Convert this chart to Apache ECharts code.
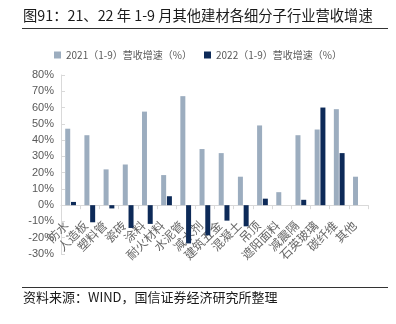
<!DOCTYPE html>
<html><head><meta charset="utf-8">
<script src="https://cdn.jsdelivr.net/npm/echarts@6/dist/echarts.min.js"></script>
<style>html,body{margin:0;padding:0;background:#fff}#c{width:396px;height:324px}</style>
</head><body><div id="c"></div>
<script>
const categories = ['防水','人造板','塑料管','瓷砖','涂料','耐火材料','水泥管','减水剂','建筑五金','混凝土','吊顶','遮阳面料','减震隔','石英玻璃','碳纤维','其他'];
const growth2021 = [47, 43, 22, 25, 57.5, 18.5, 67, 34.5, 32, 17.5, 49, 8, 43, 46.5, 59, 17.5];
const growth2022 = [2, -10.5, -2, -14, -11.5, 5.5, -23.5, -18.5, -9.5, -13, 4, null, 3.3, 60, 32, null];
const yTicks = {min: -30, max: 80, interval: 10};
const seriesNames = ['2021（1-9）营收增速（%）', '2022（1-9）营收增速（%）'];

const font = '"Noto Sans CJK SC", "Noto Sans", sans-serif';
const chart = echarts.init(document.getElementById('c'));
chart.setOption({
  animation: false,
  textStyle: {fontFamily: font},
  grid: {left: 61, right: 28, top: 75, bottom: 70, containLabel: false},
  legend: {
    top: 45, left: 'center', itemWidth: 7, itemHeight: 7, itemGap: 12,
    icon: 'rect',
    textStyle: {fontSize: 10, color: '#595959', fontFamily: font},
    data: seriesNames
  },
  graphic: [
    {type: 'text', left: 23, top: 8, style: {text: '图91：21、22 年 1-9 月其他建材各细分子行业营收增速', font: '14.3px ' + font, fill: '#1a1a1a'}},
    {type: 'line', shape: {x1: 22, y1: 28.5, x2: 388, y2: 28.5}, style: {stroke: '#333', lineWidth: 1}},
    {type: 'line', shape: {x1: 22, y1: 287.5, x2: 388, y2: 287.5}, style: {stroke: '#333', lineWidth: 1}},
    {type: 'text', left: 23, top: 291, style: {text: '资料来源：WIND，国信证券经济研究所整理', font: '13px ' + font, fill: '#1a1a1a'}}
  ],
  xAxis: {
    type: 'category', data: categories,
    axisLine: {onZero: true, lineStyle: {color: '#d9d9d9', width: 1}},
    axisTick: {show: true, length: 4, lineStyle: {color: '#d9d9d9'}},
    axisLabel: {rotate: 45, fontSize: 12, color: '#666', margin: -35, padding: [0, 6, 0, 0], interval: 0, fontFamily: font}
  },
  yAxis: {
    type: 'value', min: yTicks.min, max: yTicks.max, interval: yTicks.interval,
    axisLine: {show: true, lineStyle: {color: '#d9d9d9'}},
    axisTick: {show: true, inside: true, length: 4, lineStyle: {color: '#d9d9d9'}},
    splitLine: {show: false},
    axisLabel: {formatter: '{value}%', fontSize: 11, color: '#595959', margin: 7, fontFamily: 'Arial, "Liberation Sans", sans-serif'}
  },
  series: [
    {name: seriesNames[0], type: 'bar', data: growth2021, barWidth: 5, barGap: '15%', itemStyle: {color: '#9cadbf'}},
    {name: seriesNames[1], type: 'bar', data: growth2022, barWidth: 5, itemStyle: {color: '#0d2a58'}}
  ]
});
</script></body></html>
